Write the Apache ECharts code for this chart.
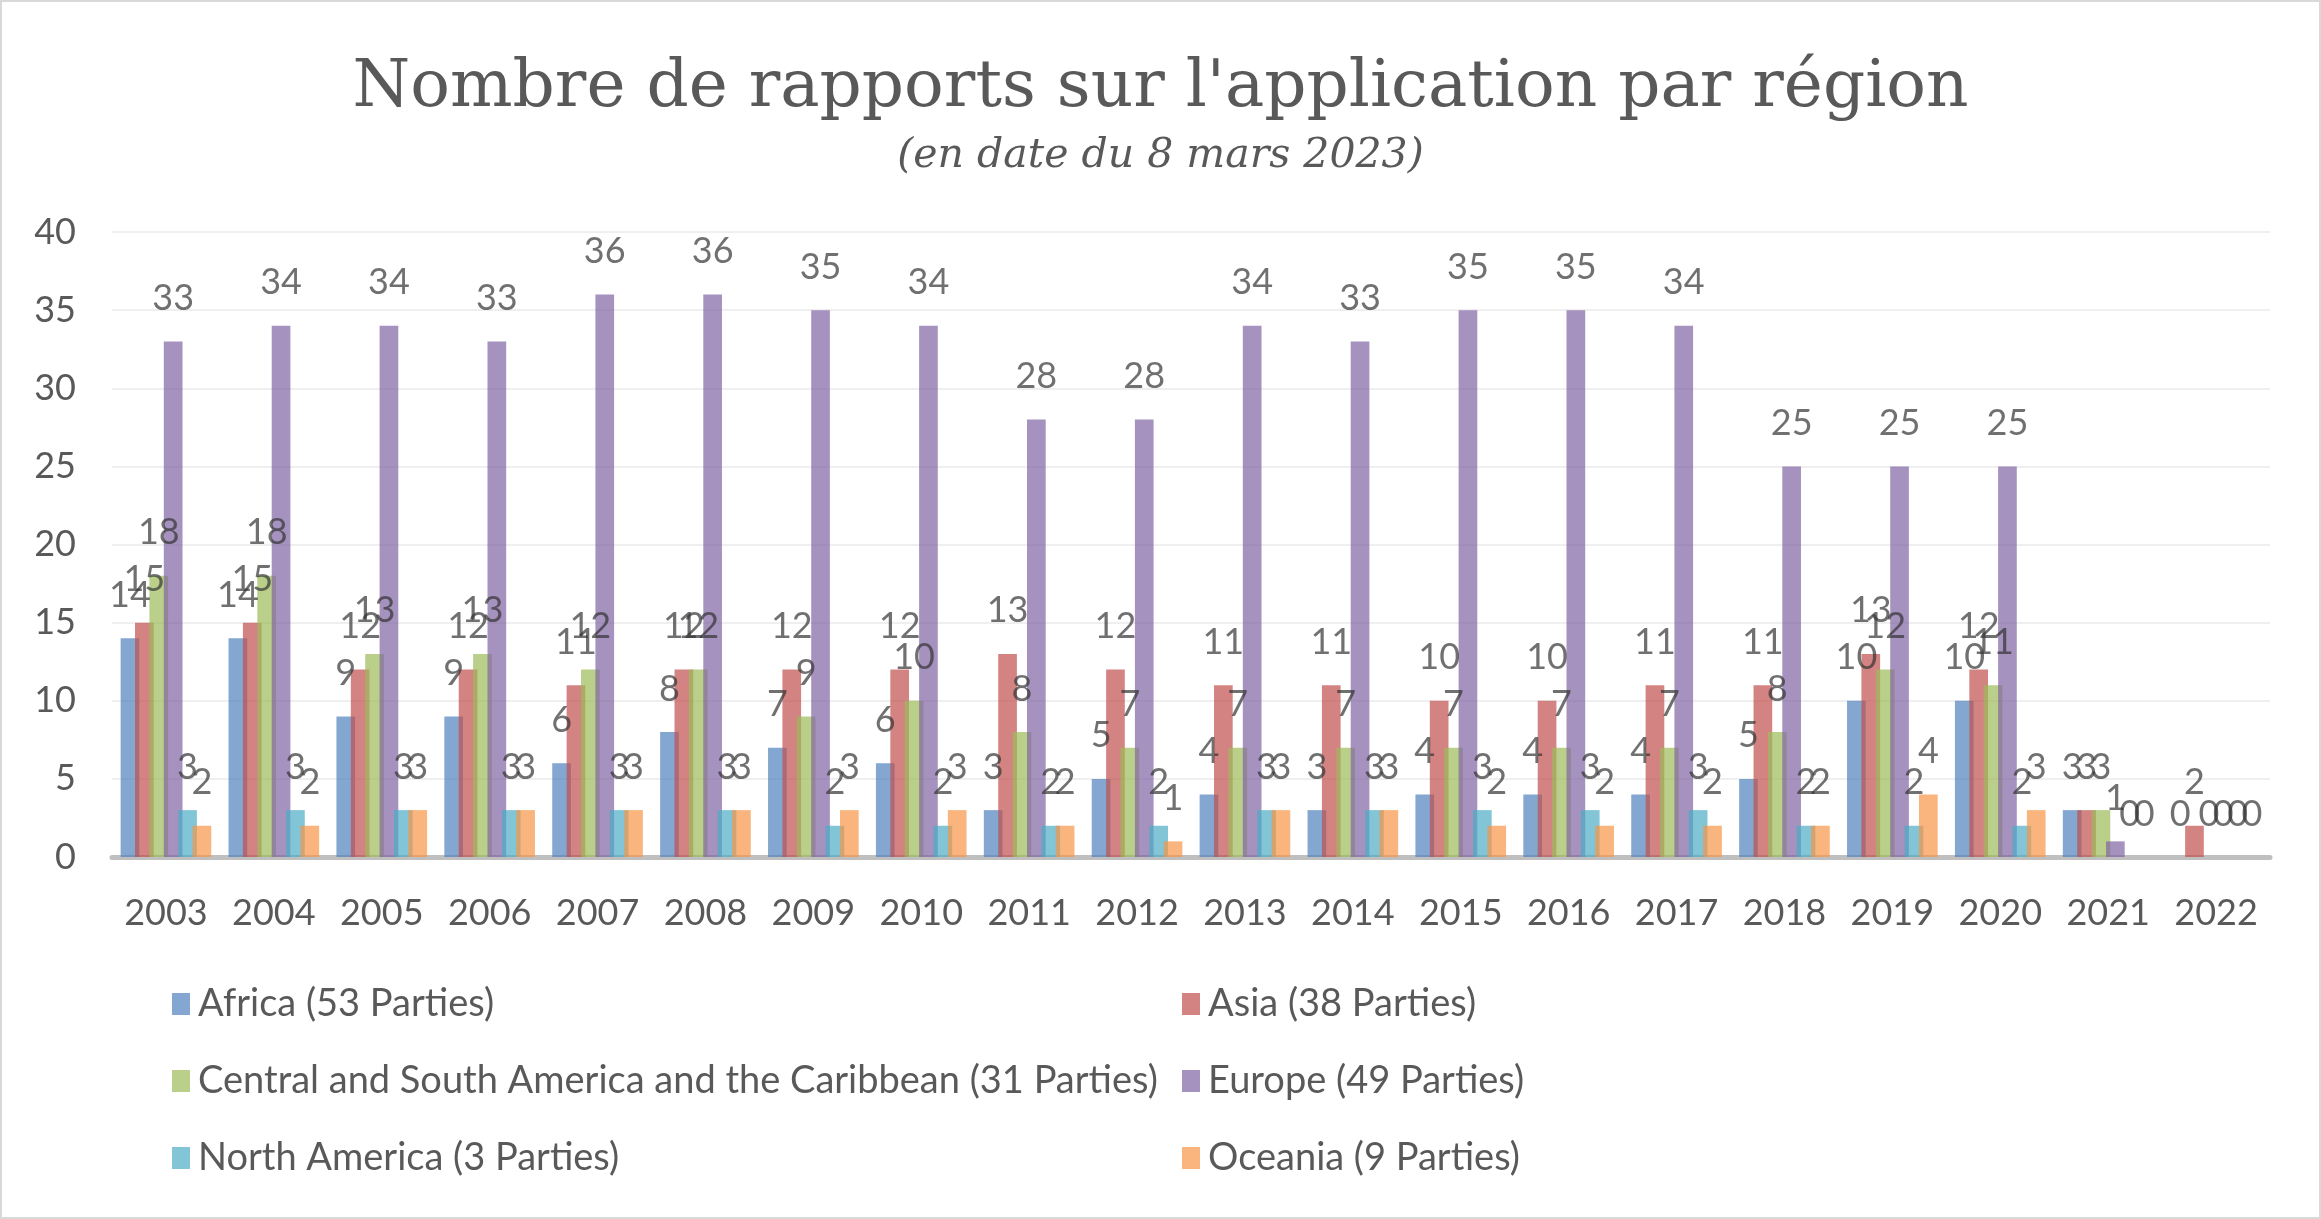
<!DOCTYPE html>
<html>
<head>
<meta charset="utf-8">
<script src="https://cdn.jsdelivr.net/npm/echarts@6/dist/echarts.min.js"></script>
<style>
  html, body { margin: 0; padding: 0; background: #fff; }
  #chart {
    width: 2321px; height: 1219px;
    box-sizing: border-box;
    border: 2px solid #d9d9d9;
  }
</style>
</head>
<body>
<div id="chart"></div>
<script>
const years = ['2003', '2004', '2005', '2006', '2007', '2008', '2009', '2010', '2011', '2012',
    '2013', '2014', '2015', '2016', '2017', '2018', '2019', '2020', '2021', '2022'];

const africa =       [14, 14, 9, 9, 6, 8, 7, 6, 3, 5, 4, 3, 4, 4, 4, 5, 10, 10, 3, 0];
const asia =         [15, 15, 12, 12, 11, 12, 12, 12, 13, 12, 11, 11, 10, 10, 11, 11, 13, 12, 3, 2];
const latinAmerica = [18, 18, 13, 13, 12, 12, 9, 10, 8, 7, 7, 7, 7, 7, 7, 8, 12, 11, 3, 0];
const europe =       [33, 34, 34, 33, 36, 36, 35, 34, 28, 28, 34, 33, 35, 35, 34, 25, 25, 25, 1, 0];
const northAmerica = [3, 3, 3, 3, 3, 3, 2, 2, 2, 2, 3, 3, 3, 3, 3, 2, 2, 2, 0, 0];
const oceania =      [2, 2, 3, 3, 3, 3, 3, 3, 2, 1, 3, 3, 2, 2, 2, 2, 4, 3, 0, 0];

const seriesNames = [
    'Africa (53 Parties)',
    'Asia (38 Parties)',
    'Central and South America and the Caribbean (31 Parties)',
    'Europe (49 Parties)',
    'North America (3 Parties)',
    'Oceania (9 Parties)'
];
const seriesData = [africa, asia, latinAmerica, europe, northAmerica, oceania];
const colors = ['#4F81BD', '#C0504D', '#9BBB59', '#8064A2', '#4BACC6', '#F79646'];

const chart = echarts.init(document.getElementById('chart'), null, { renderer: 'canvas' });

const gray = '#595959';
const sans = 'Lato, "Open Sans", sans-serif';

// legend: two columns of three rows, like the Excel layout
function legendColumn(names, left) {
    return {
        data: names,
        orient: 'vertical',
        left: left,
        top: 977,
        itemWidth: 18,
        itemHeight: 22,
        itemGap: 37,
        icon: 'rect',
        textStyle: {
            fontFamily: sans,
            fontSize: 38,
            lineHeight: 40,
            color: gray,
            padding: [0, 0, 0, 3]
        }
    };
}

chart.setOption({
    backgroundColor: '#fff',
    color: colors,
    animation: false,
    title: {
        text: "Nombre de rapports sur l'application par région",
        subtext: '(en date du 8 mars 2023)',
        left: 'center',
        top: 42,
        itemGap: 4,
        textStyle: {
            fontFamily: '"DejaVu Serif", serif',
            fontWeight: 'normal',
            fontSize: 66,
            lineHeight: 80,
            color: gray
        },
        subtextStyle: {
            fontFamily: '"DejaVu Serif", serif',
            fontStyle: 'italic',
            fontSize: 41,
            lineHeight: 46,
            color: gray
        }
    },
    legend: [
        legendColumn([seriesNames[0], seriesNames[2], seriesNames[4]], 165),
        legendColumn([seriesNames[1], seriesNames[3], seriesNames[5]], 1175)
    ],
    grid: {
        left: 110,
        right: 49,
        top: 230,
        bottom: 360,
        containLabel: false,
        outerBoundsMode: 'none'
    },
    xAxis: {
        type: 'category',
        data: years,
        axisTick: { show: false },
        axisLine: { lineStyle: { color: '#BFBFBF', width: 5 } },
        axisLabel: {
            interval: 0,
            fontFamily: sans,
            fontSize: 36,
            color: gray,
            margin: 38
        }
    },
    yAxis: {
        type: 'value',
        min: 0,
        max: 40,
        interval: 5,
        axisLine: { show: false },
        axisTick: { show: false },
        splitLine: { lineStyle: { color: '#EFEFEF', width: 2 } },
        axisLabel: {
            fontFamily: sans,
            fontSize: 36,
            color: gray,
            margin: 36
        }
    },
    series: seriesNames.map(function (name, i) {
        return {
            name: name,
            type: 'bar',
            data: seriesData[i],
            barGap: '-23%',
            barCategoryGap: '16%',
            itemStyle: { opacity: 0.7 },
            label: {
                show: true,
                position: 'top',
                distance: 25,
                fontFamily: sans,
                fontSize: 36,
                color: '#333333'
            }
        };
    })
});
</script>
</body>
</html>
